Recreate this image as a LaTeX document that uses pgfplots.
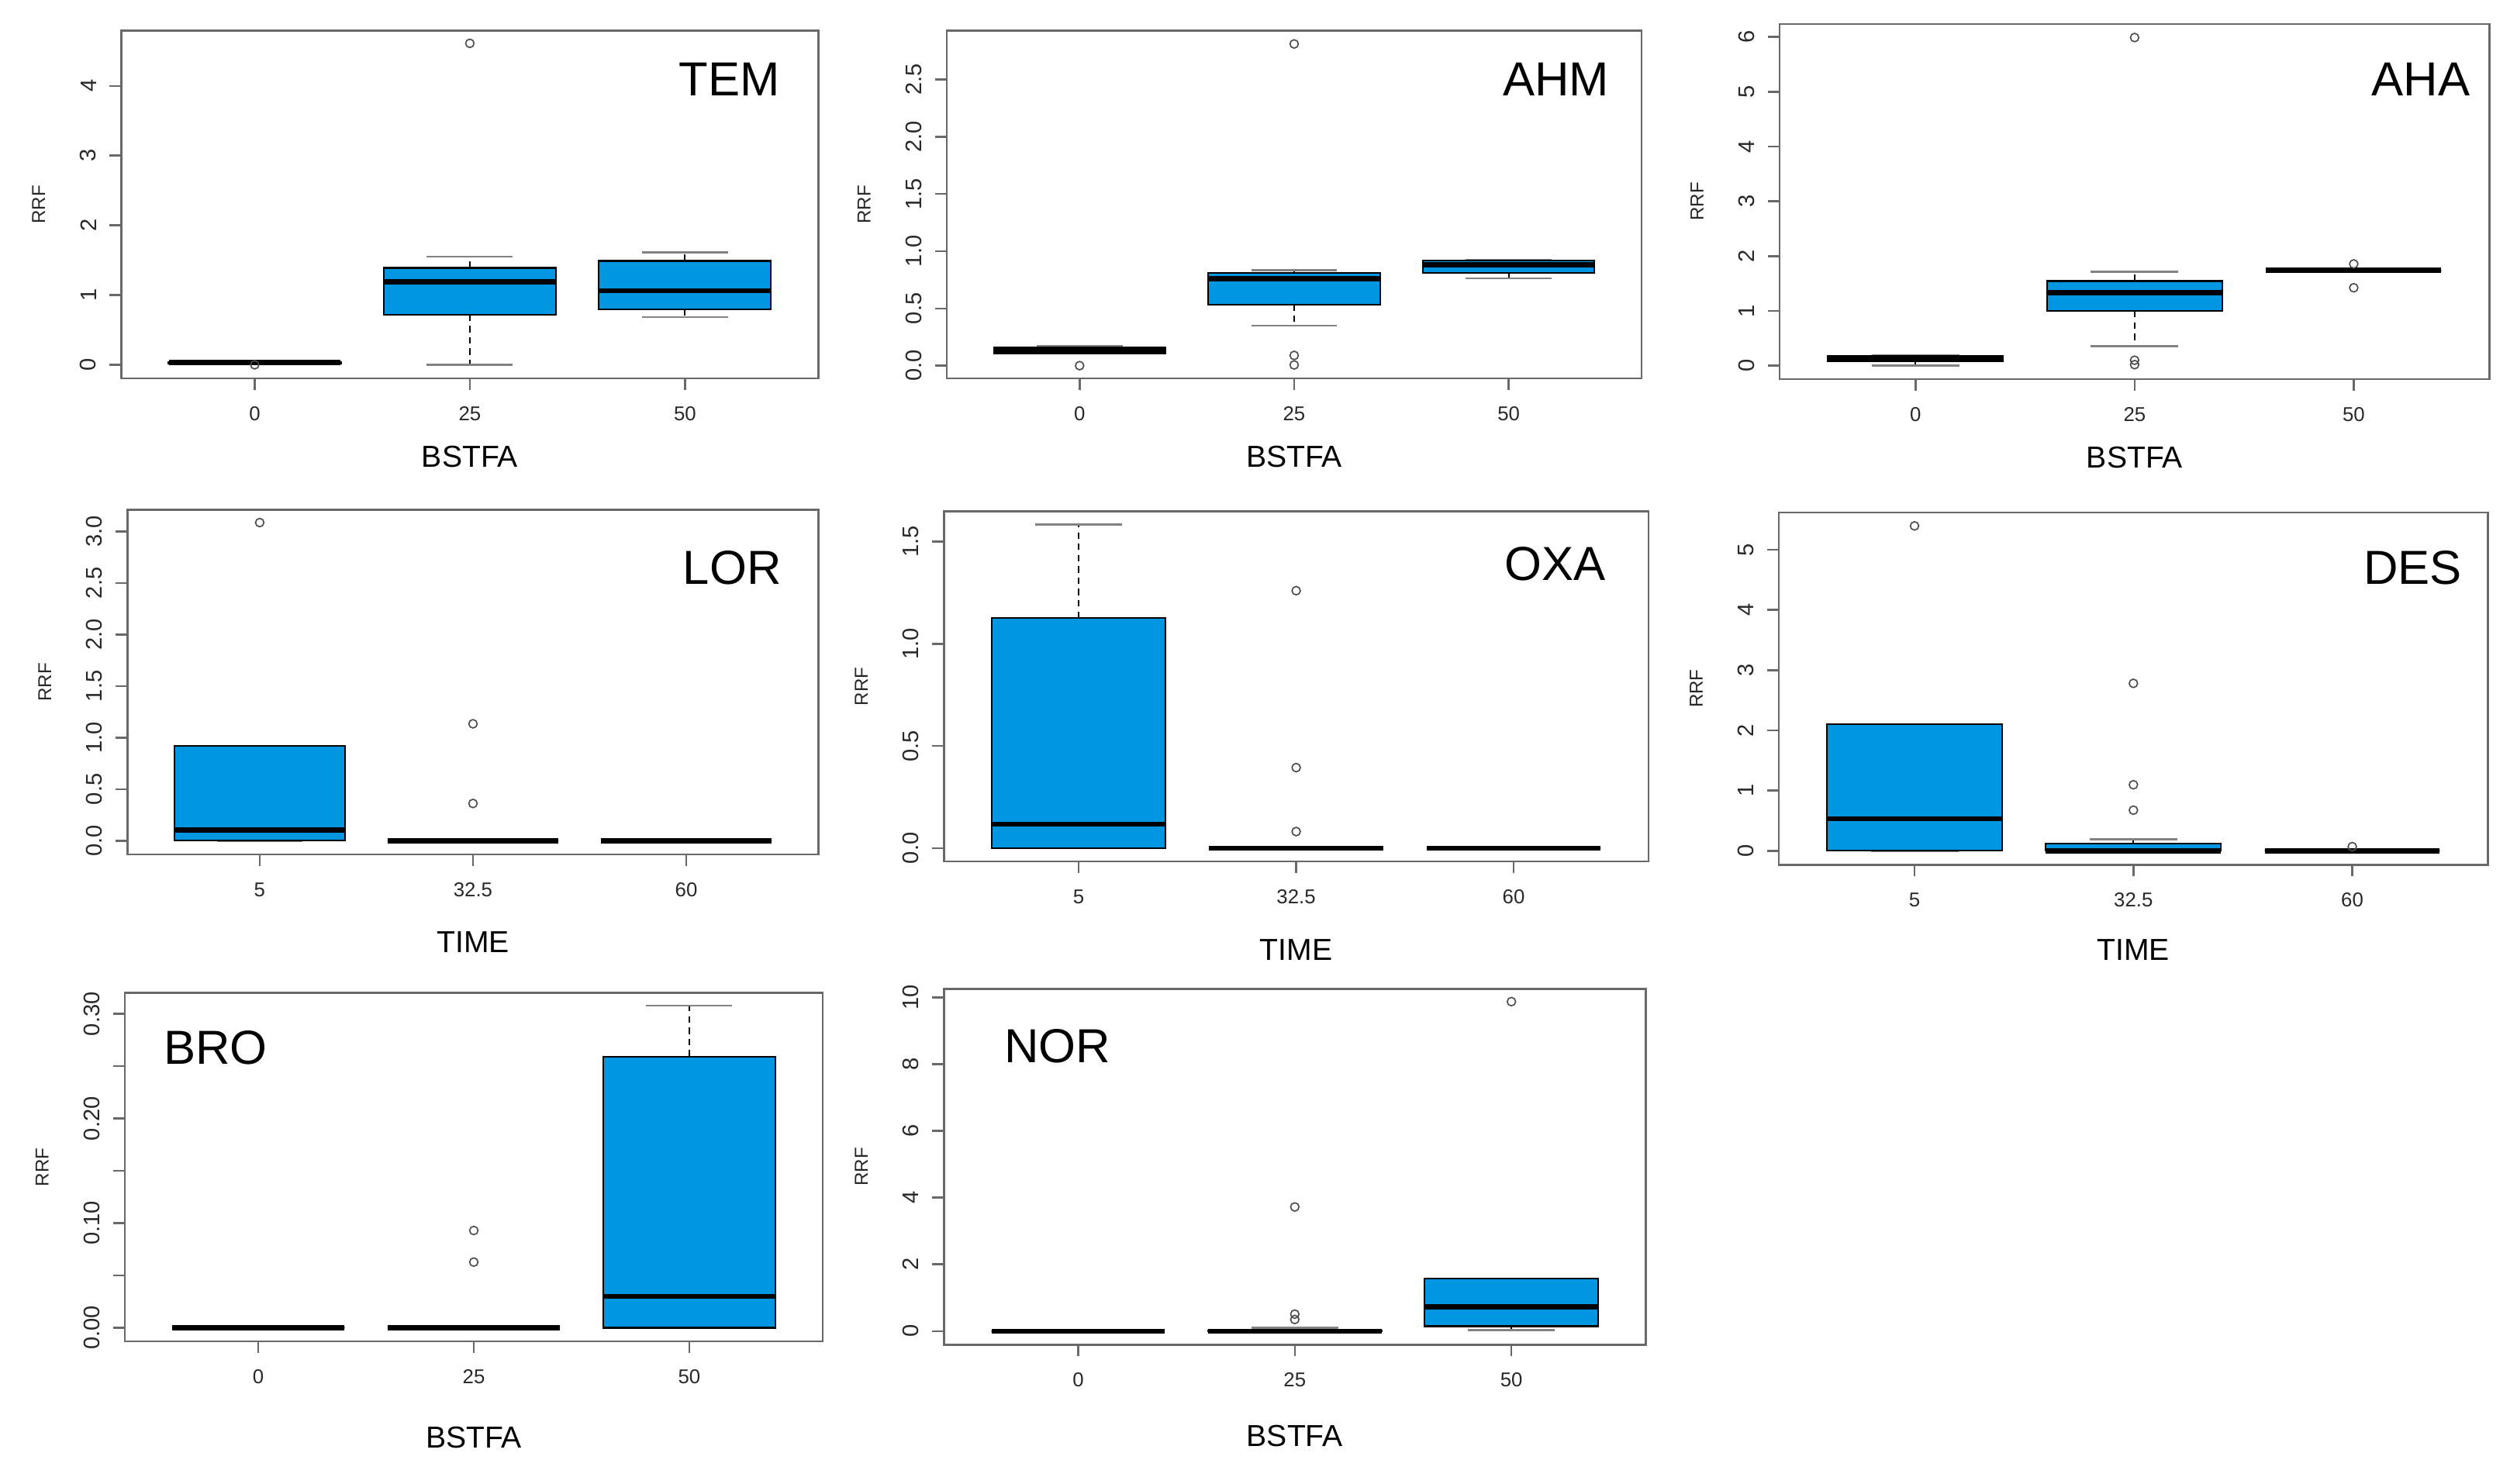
\documentclass[border=0pt]{standalone}
\usepackage{fontspec}
\setmainfont{Liberation Sans}
\usepackage{pgfplots}
\pgfplotsset{compat=1.18}
\usepgfplotslibrary{statistics}
\definecolor{rblue}{RGB}{0,150,226}
\definecolor{framegray}{RGB}{105,105,105}
\definecolor{capgray}{RGB}{130,130,130}
\definecolor{txt}{RGB}{40,40,40}
\tikzset{ttl/.style={inner sep=0pt, font=\fontsize{14.8}{16}\selectfont}}
\pgfplotsset{
  rpanel/.style={
    scale only axis, anchor=south west,
    xmin=0.38, xmax=3.62, xtick={1,2,3},
    axis line style={framegray, line width=0.6pt},
    tick align=outside, tick pos=left,
    major tick length=3.6pt,
    every tick/.style={framegray, line width=0.6pt},
    yticklabel style={font=\fontsize{7}{8}\selectfont, rotate=90, anchor=south, inner sep=0pt, text=txt},
    yticklabel shift=4pt,
    xticklabel style={font=\fontsize{6.2}{7}\selectfont, anchor=north, inner sep=0pt, text=txt},
    xticklabel shift=5pt,
    ylabel={RRF},
    every axis y label/.style={at={([xshift=-25.6pt]rel axis cs:0,0.5)}, anchor=center, rotate=90, font=\fontsize{5.8}{7}\selectfont, text=txt, inner sep=0pt},
    every axis x label/.style={at={([yshift=-24.2pt]rel axis cs:0.5,0)}, anchor=center, font=\fontsize{9.4}{11}\selectfont, inner sep=0pt},
    clip=false,
  },
  rbox/.style={
    boxplot/draw direction=y,
    boxplot/box extend=0.8,
    boxplot/whisker extend=0.4,
    boxplot/every box/.style={fill=rblue, draw=black, line width=0.5pt},
    boxplot/every median/.style={black, line width=1.6pt},
    boxplot/draw/lower whisker/.code={%
      \draw[black, line width=0.45pt, dash pattern=on 2pt off 1.5pt]
        (boxplot cs:\pgfplotsboxplotvalue{lower quartile}) -- (boxplot cs:\pgfplotsboxplotvalue{lower whisker});
      \draw[capgray, line width=0.6pt]
        (boxplot whisker cs:\pgfplotsboxplotvalue{lower whisker},0) -- (boxplot whisker cs:\pgfplotsboxplotvalue{lower whisker},1);
    },
    boxplot/draw/upper whisker/.code={%
      \draw[black, line width=0.45pt, dash pattern=on 2pt off 1.5pt]
        (boxplot cs:\pgfplotsboxplotvalue{upper quartile}) -- (boxplot cs:\pgfplotsboxplotvalue{upper whisker});
      \draw[capgray, line width=0.6pt]
        (boxplot whisker cs:\pgfplotsboxplotvalue{upper whisker},0) -- (boxplot whisker cs:\pgfplotsboxplotvalue{upper whisker},1);
    },
  },
  outl/.style={only marks, mark=o, mark size=1.3pt, mark options={draw=black!70, line width=0.4pt}},
}
\begin{document}
\begin{tikzpicture}
\useasboundingbox (0,0) rectangle (780pt,459.9pt);

% ---------- TEM ----------
\begin{axis}[rpanel, at={(37.6pt,342.6pt)}, width=216pt, height=107.75pt,
  ymin=-0.196, ymax=4.79, ytick={0,1,2,3,4}, yticklabels={0,1,2,3,4},
  xticklabels={0,25,50}, xlabel={BSTFA}]
\addplot[rbox, boxplot prepared={draw position=1, lower whisker=0.02, lower quartile=0.02, median=0.03, upper quartile=0.04, upper whisker=0.05}] coordinates {};
\addplot[rbox, boxplot prepared={draw position=2, lower whisker=0.0, lower quartile=0.72, median=1.19, upper quartile=1.39, upper whisker=1.55}] coordinates {};
\addplot[rbox, boxplot prepared={draw position=3, lower whisker=0.685, lower quartile=0.80, median=1.06, upper quartile=1.49, upper whisker=1.61}] coordinates {};
\addplot[outl] coordinates {(1,0.0) (2,4.61)};
\node[ttl, anchor=north east] at (rel axis cs:0.946,0.910) {TEM};
\end{axis}

% ---------- AHM ----------
\begin{axis}[rpanel, at={(293.35pt,342.6pt)}, width=215.4pt, height=107.75pt,
  ymin=-0.112, ymax=2.925, ytick={0,0.5,1,1.5,2,2.5}, yticklabels={0.0,0.5,1.0,1.5,2.0,2.5},
  xticklabels={0,25,50}, xlabel={BSTFA}]
\addplot[rbox, boxplot prepared={draw position=1, lower whisker=0.105, lower quartile=0.109, median=0.137, upper quartile=0.159, upper whisker=0.173}] coordinates {};
\addplot[rbox, boxplot prepared={draw position=2, lower whisker=0.348, lower quartile=0.535, median=0.758, upper quartile=0.813, upper whisker=0.833}] coordinates {};
\addplot[rbox, boxplot prepared={draw position=3, lower whisker=0.763, lower quartile=0.808, median=0.883, upper quartile=0.916, upper whisker=0.92}] coordinates {};
\addplot[outl] coordinates {(1,0.0) (2,0.089) (2,0.006) (2,2.81)};
\node[ttl, anchor=north east] at (rel axis cs:0.954,0.910) {AHM};
\end{axis}

% ---------- AHA ----------
\begin{axis}[rpanel, at={(551.5pt,342.4pt)}, width=220pt, height=110.1pt,
  ymin=-0.244, ymax=6.24, ytick={0,1,2,3,4,5,6}, yticklabels={0,1,2,3,4,5,6},
  xticklabels={0,25,50}, xlabel={BSTFA}]
\addplot[rbox, boxplot prepared={draw position=1, lower whisker=0.0, lower quartile=0.087, median=0.134, upper quartile=0.186, upper whisker=0.197}] coordinates {};
\addplot[rbox, boxplot prepared={draw position=2, lower whisker=0.36, lower quartile=0.999, median=1.336, upper quartile=1.545, upper whisker=1.713}] coordinates {};
\addplot[rbox, boxplot prepared={draw position=3, lower whisker=1.742, lower quartile=1.742, median=1.742, upper quartile=1.742, upper whisker=1.742}] coordinates {};
\addplot[outl] coordinates {(2,0.02) (2,0.10) (2,5.99) (3,1.858) (3,1.423)};
\node[ttl, anchor=north east] at (rel axis cs:0.973,0.892) {AHA};
\end{axis}

% ---------- LOR ----------
\begin{axis}[rpanel, at={(39.5pt,195.1pt)}, width=214.15pt, height=106.8pt,
  ymin=-0.133, ymax=3.21, ytick={0,0.5,1,1.5,2,2.5,3}, yticklabels={0.0,0.5,1.0,1.5,2.0,2.5,3.0},
  xticklabels={5,32.5,60}, xlabel={TIME},
  xlabel style={at={([yshift=-27.2pt]rel axis cs:0.5,0)}}]
\addplot[rbox, boxplot prepared={draw position=1, lower whisker=0, lower quartile=0, median=0.105, upper quartile=0.917, upper whisker=0.917}] coordinates {};
\addplot[rbox, boxplot prepared={draw position=2, lower whisker=0, lower quartile=0, median=0, upper quartile=0, upper whisker=0}] coordinates {};
\addplot[rbox, boxplot prepared={draw position=3, lower whisker=0, lower quartile=0, median=0, upper quartile=0, upper whisker=0}] coordinates {};
\addplot[outl] coordinates {(1,3.086) (2,1.134) (2,0.361)};
\node[ttl, anchor=north east] at (rel axis cs:0.947,0.883) {LOR};
\end{axis}

% ---------- OXA ----------
\begin{axis}[rpanel, at={(292.5pt,192.9pt)}, width=218.35pt, height=108.5pt,
  ymin=-0.0655, ymax=1.648, ytick={0,0.5,1,1.5}, yticklabels={0.0,0.5,1.0,1.5},
  xticklabels={5,32.5,60}, xlabel={TIME},
  xlabel style={at={([yshift=-27.3pt]rel axis cs:0.5,0)}}]
\addplot[rbox, boxplot prepared={draw position=1, lower whisker=0, lower quartile=0, median=0.117, upper quartile=1.127, upper whisker=1.583}] coordinates {};
\addplot[rbox, boxplot prepared={draw position=2, lower whisker=0, lower quartile=0, median=0, upper quartile=0, upper whisker=0}] coordinates {};
\addplot[rbox, boxplot prepared={draw position=3, lower whisker=0, lower quartile=0, median=0, upper quartile=0, upper whisker=0}] coordinates {};
\addplot[outl] coordinates {(2,1.26) (2,0.394) (2,0.081)};
\node[ttl, anchor=north east] at (rel axis cs:0.940,0.901) {OXA};
\end{axis}

% ---------- DES ----------
\begin{axis}[rpanel, at={(551.25pt,191.9pt)}, width=219.75pt, height=109.15pt,
  ymin=-0.232, ymax=5.617, ytick={0,1,2,3,4,5}, yticklabels={0,1,2,3,4,5},
  xticklabels={5,32.5,60}, xlabel={TIME},
  xlabel style={at={([yshift=-26.3pt]rel axis cs:0.5,0)}}]
\addplot[rbox, boxplot prepared={draw position=1, lower whisker=0, lower quartile=0, median=0.532, upper quartile=2.102, upper whisker=2.102}] coordinates {};
\addplot[rbox, boxplot prepared={draw position=2, lower whisker=0, lower quartile=0, median=0, upper quartile=0.121, upper whisker=0.19}] coordinates {};
\addplot[rbox, boxplot prepared={draw position=3, lower whisker=0, lower quartile=0, median=0, upper quartile=0, upper whisker=0}] coordinates {};
\addplot[outl] coordinates {(1,5.395) (2,2.78) (2,1.096) (2,0.674) (3,0.068)};
\node[ttl, anchor=north east] at (rel axis cs:0.964,0.893) {DES};
\end{axis}

% ---------- BRO ----------
\begin{axis}[rpanel, at={(38.65pt,44.2pt)}, width=216.35pt, height=108pt,
  ymin=-0.0129, ymax=0.3202, ytick={0,0.05,0.10,0.15,0.20,0.25,0.30}, yticklabels={0.00,,0.10,,0.20,,0.30},
  xticklabels={0,25,50}, xlabel={BSTFA},
  xlabel style={at={([yshift=-29.8pt]rel axis cs:0.5,0)}}]
\addplot[rbox, boxplot prepared={draw position=1, lower whisker=0, lower quartile=0, median=0, upper quartile=0, upper whisker=0}] coordinates {};
\addplot[rbox, boxplot prepared={draw position=2, lower whisker=0, lower quartile=0, median=0, upper quartile=0, upper whisker=0}] coordinates {};
\addplot[rbox, boxplot prepared={draw position=3, lower whisker=0, lower quartile=0, median=0.030, upper quartile=0.2593, upper whisker=0.308}] coordinates {};
\addplot[outl] coordinates {(2,0.093) (2,0.0628)};
\node[ttl, anchor=north west] at (rel axis cs:0.055,0.893) {BRO};
\end{axis}

% ---------- NOR ----------
\begin{axis}[rpanel, at={(292.5pt,43.15pt)}, width=217.5pt, height=110.25pt,
  ymin=-0.405, ymax=10.25, ytick={0,2,4,6,8,10}, yticklabels={0,2,4,6,8,10},
  xticklabels={0,25,50}, xlabel={BSTFA},
  xlabel style={at={([yshift=-28.2pt]rel axis cs:0.5,0)}}]
\addplot[rbox, boxplot prepared={draw position=1, lower whisker=0, lower quartile=0, median=0, upper quartile=0, upper whisker=0}] coordinates {};
\addplot[rbox, boxplot prepared={draw position=2, lower whisker=0, lower quartile=0, median=0, upper quartile=0.03, upper whisker=0.1}] coordinates {};
\addplot[rbox, boxplot prepared={draw position=3, lower whisker=0.03, lower quartile=0.148, median=0.731, upper quartile=1.58, upper whisker=1.58}] coordinates {};
\addplot[outl] coordinates {(2,0.51) (2,0.35) (2,3.72) (3,9.87)};
\node[ttl, anchor=north west] at (rel axis cs:0.085,0.889) {NOR};
\end{axis}
\end{tikzpicture}
\end{document}
